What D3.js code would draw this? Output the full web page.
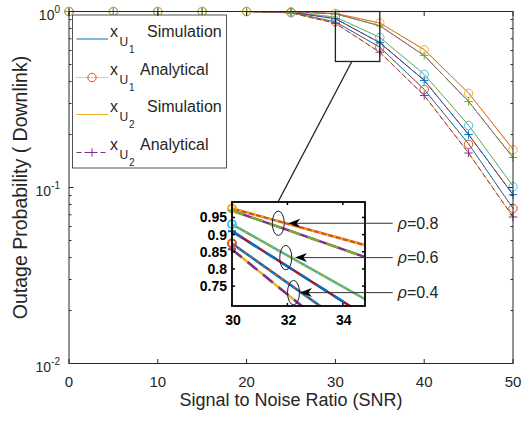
<!DOCTYPE html>
<html>
<head>
<meta charset="utf-8">
<script src="https://cdn.jsdelivr.net/npm/d3@7"></script>
<style>
  body { margin: 0; background: #fff; }
  svg { display: block; font-family: Arial, "Liberation Sans", sans-serif; }
</style>
</head>
<body>
<div id="chart"></div>
<script>
// SNR points (dB)
const snr = [0, 5, 10, 15, 20, 25, 30, 35, 40, 45, 50];

// rho = 0.4
const simU1_04 = [1, 1, 1, 1, 1, 0.985, 0.874, 0.627, 0.361, 0.177, 0.076];
const anaU1_04 = [1, 1, 1, 1, 1, 0.985, 0.874, 0.627, 0.360, 0.176, 0.076];
const simU2_04 = [1, 1, 1, 1, 1, 0.982, 0.857, 0.587, 0.334, 0.157, 0.068];
const anaU2_04 = [1, 1, 1, 1, 1, 0.982, 0.857, 0.587, 0.333, 0.157, 0.068];
// rho = 0.6
const simU1_06 = [1, 1, 1, 1, 1, 0.992, 0.930, 0.713, 0.440, 0.226, 0.102];
const anaU1_06 = [1, 1, 1, 1, 1, 0.992, 0.930, 0.712, 0.439, 0.225, 0.101];
const simU2_06 = [1, 1, 1, 1, 1, 0.990, 0.910, 0.665, 0.406, 0.200, 0.091];
const anaU2_06 = [1, 1, 1, 1, 1, 0.990, 0.910, 0.665, 0.406, 0.200, 0.091];
// rho = 0.8
const simU1_08 = [1, 1, 1, 1, 1, 0.997, 0.976, 0.860, 0.607, 0.344, 0.165];
const anaU1_08 = [1, 1, 1, 1, 1, 0.997, 0.976, 0.860, 0.606, 0.343, 0.164];
const simU2_08 = [1, 1, 1, 1, 1, 0.996, 0.970, 0.830, 0.562, 0.308, 0.148];
const anaU2_08 = [1, 1, 1, 1, 1, 0.996, 0.970, 0.830, 0.562, 0.308, 0.148];

// zoomed inset (SNR 30..35)
const zoomSnr = [30, 35];
const zoomU1_04 = [0.874, 0.588];
const zoomU2_04 = [0.857, 0.529];
const zoomU1_06 = [0.930, 0.703];
const zoomU2_06 = [0.910, 0.654];
const zoomU1_08 = [0.976, 0.865];
const zoomU2_08 = [0.970, 0.829];

const xTicks = [0, 10, 20, 30, 40, 50];
const yTicks = [0.01, 0.1, 1];
const yTickExp = ["-2", "-1", "0"];
const zoomXTicks = [30, 32, 34];
const zoomYTicks = [0.75, 0.8, 0.85, 0.9, 0.95];
const zoomYLabels = ["0.75", "0.8", "0.85", "0.9", "0.95"];
const rhoLabels = ["0.8", "0.6", "0.4"];

const colors = ["#0072BD", "#D95319", "#EDB120", "#7E2F8E", "#77AC30", "#4DBEEE", "#A2142F"];
const axisColor = "#262626";

const W = 525, H = 421;
const svg = d3.select("#chart").append("svg")
  .attr("width", W).attr("height", H);
svg.append("rect").attr("width", W).attr("height", H).attr("fill", "#fff");

const x = d3.scaleLinear().domain([0, 50]).range([69, 513]);
const y = d3.scaleLog().domain([0.01, 1]).range([363.5, 11.5]);

// build the 12 series (MATLAB colour order cycles through them)
const groups = [
  { sim1: simU1_04, ana1: anaU1_04, sim2: simU2_04, ana2: anaU2_04, z1: zoomU1_04, z2: zoomU2_04 },
  { sim1: simU1_06, ana1: anaU1_06, sim2: simU2_06, ana2: anaU2_06, z1: zoomU1_06, z2: zoomU2_06 },
  { sim1: simU1_08, ana1: anaU1_08, sim2: simU2_08, ana2: anaU2_08, z1: zoomU1_08, z2: zoomU2_08 }
];
const series = [];
groups.forEach(g => {
  series.push({ vals: g.sim1, zoom: g.z1, style: "solid", marker: null });
  series.push({ vals: g.ana1, zoom: g.z1, style: "dot", marker: "circle" });
  series.push({ vals: g.sim2, zoom: g.z2, style: "solid", marker: null });
  series.push({ vals: g.ana2, zoom: g.z2, style: "dash", marker: "plus" });
});
series.forEach((s, i) => s.color = colors[i % colors.length]);

function dashFor(style, w) {
  if (style === "dot") return `${w},${w * 2}`;
  if (style === "dash") return `${w * 5},${w * 3}`;
  return null;
}

function drawMarker(sel, kind, color, size, sw) {
  if (kind === "circle") {
    sel.append("circle").attr("r", size).attr("fill", "none")
      .attr("stroke", color).attr("stroke-width", sw);
  } else if (kind === "plus") {
    sel.append("path").attr("d", `M${-size},0H${size}M0,${-size}V${size}`)
      .attr("fill", "none").attr("stroke", color).attr("stroke-width", sw);
  }
}

// ---- main plot lines ----
const line = d3.line().x(d => x(d[0])).y(d => y(d[1]));
const plot = svg.append("g");
series.forEach(s => {
  const pts = snr.map((v, i) => [v, s.vals[i]]);
  plot.append("path").datum(pts).attr("d", line)
    .attr("fill", "none").attr("stroke", s.color).attr("stroke-width", 1)
    .attr("stroke-dasharray", dashFor(s.style, 1));
  if (s.marker) {
    pts.forEach(p => {
      const m = plot.append("g").attr("transform", `translate(${x(p[0])},${y(p[1])})`);
      drawMarker(m, s.marker, s.color, 4.2, 1);
    });
  }
});

// ---- legend ----
const legend = svg.append("g");
legend.append("rect").attr("x", 72.5).attr("y", 15).attr("width", 154).attr("height", 153)
  .attr("fill", "#fff").attr("stroke", axisColor).attr("stroke-width", 0.8);
const legendItems = [
  { s: series[0], sub: "1", word: "Simulation", wx: 147 },
  { s: series[1], sub: "1", word: "Analytical", wx: 140 },
  { s: series[2], sub: "2", word: "Simulation", wx: 147 },
  { s: series[3], sub: "2", word: "Analytical", wx: 140 }
];
const legendBase = [36.5, 75, 112, 150];
legendItems.forEach((it, i) => {
  const b = legendBase[i];
  const ly = b + 2.5;
  legend.append("line").attr("x1", 76.5).attr("x2", 108).attr("y1", ly).attr("y2", ly)
    .attr("stroke", it.s.color).attr("stroke-width", 1)
    .attr("stroke-dasharray", dashFor(it.s.style, 1));
  if (it.s.marker) {
    const m = legend.append("g").attr("transform", `translate(92,${ly})`);
    drawMarker(m, it.s.marker, it.s.color, 4.2, 1);
  }
  legend.append("text").attr("x", 110).attr("y", b).attr("font-size", 16)
    .attr("fill", axisColor).text("x");
  legend.append("text").attr("x", 119.5).attr("y", b + 9).attr("font-size", 12)
    .attr("fill", axisColor).text("U");
  legend.append("text").attr("x", 129).attr("y", b + 16).attr("font-size", 10)
    .attr("fill", axisColor).text(it.sub);
  legend.append("text").attr("x", it.wx).attr("y", b).attr("font-size", 16)
    .attr("fill", axisColor).text(it.word);
});

// ---- main axes frame & ticks ----
const ax = svg.append("g").attr("stroke", axisColor).attr("fill", "none");
const [x0, x1] = x.range();
const [yB, yT] = y.range();
ax.append("rect").attr("x", x0).attr("y", yT).attr("width", x1 - x0).attr("height", yB - yT)
  .attr("stroke-width", 1);
xTicks.forEach(t => {
  ax.append("line").attr("x1", x(t)).attr("x2", x(t)).attr("y1", yB).attr("y2", yB - 4.5);
  ax.append("line").attr("x1", x(t)).attr("x2", x(t)).attr("y1", yT).attr("y2", yT + 4.5);
});
const minor = [];
[0.01, 0.1].forEach(d => { for (let k = 2; k <= 9; k++) minor.push(d * k); });
yTicks.forEach(t => {
  ax.append("line").attr("x1", x0).attr("x2", x0 + 4.5).attr("y1", y(t)).attr("y2", y(t));
  ax.append("line").attr("x1", x1).attr("x2", x1 - 4.5).attr("y1", y(t)).attr("y2", y(t));
});
minor.forEach(t => {
  ax.append("line").attr("x1", x0).attr("x2", x0 + 2.5).attr("y1", y(t)).attr("y2", y(t));
  ax.append("line").attr("x1", x1).attr("x2", x1 - 2.5).attr("y1", y(t)).attr("y2", y(t));
});

const labels = svg.append("g").attr("fill", axisColor);
xTicks.forEach(t => {
  labels.append("text").attr("x", x(t)).attr("y", 386.5).attr("text-anchor", "middle")
    .attr("font-size", 15).text(t);
});
yTicks.forEach((t, i) => {
  const tx = labels.append("text").attr("x", 60).attr("y", y(t) + 8.5)
    .attr("text-anchor", "end").attr("font-size", 14);
  tx.append("tspan").text("10");
  tx.append("tspan").attr("font-size", 10).attr("dy", -7).text(yTickExp[i]);
});
labels.append("text").attr("x", (x0 + x1) / 2).attr("y", 406).attr("text-anchor", "middle")
  .attr("font-size", 18).text("Signal to Noise Ratio (SNR)");
labels.append("text").attr("transform", `translate(27,${(yT + yB) / 2}) rotate(-90)`)
  .attr("text-anchor", "middle").attr("font-size", 19.5).text("Outage Probability ( Downlink)");

// ---- zoom box on main plot ----
const boxLo = 0.52;
svg.append("rect").attr("x", x(30)).attr("y", y(1)).attr("width", x(35) - x(30))
  .attr("height", y(boxLo) - y(1)).attr("fill", "none").attr("stroke", "#222")
  .attr("stroke-width", 1.3);

// ---- inset ----
const ix = d3.scaleLinear().domain([30, 34.8]).range([232, 365]);
const iy = d3.scaleLinear().domain([0.692, 0.995]).range([306, 202]);
const [ix0, ix1] = ix.range();
const [iyB, iyT] = iy.range();

svg.append("line").attr("x1", x(31.85)).attr("y1", y(boxLo)).attr("x2", ix(31.66)).attr("y2", iyT)
  .attr("stroke", "#222").attr("stroke-width", 1.3);

const inset = svg.append("g");
inset.append("rect").attr("x", ix0).attr("y", iyT).attr("width", ix1 - ix0).attr("height", iyB - iyT)
  .attr("fill", "#fff");
svg.append("clipPath").attr("id", "insetClip").append("rect")
  .attr("x", ix0).attr("y", iyT).attr("width", ix1 - ix0).attr("height", iyB - iyT);
const iline = d3.line().x(d => ix(d[0])).y(d => iy(d[1]));
const ilines = inset.append("g").attr("clip-path", "url(#insetClip)");
series.forEach(s => {
  const pts = zoomSnr.map((v, i) => [v, s.zoom[i]]);
  ilines.append("path").datum(pts).attr("d", iline)
    .attr("fill", "none").attr("stroke", s.color).attr("stroke-width", 2.5)
    .attr("stroke-dasharray", dashFor(s.style, 2.5));
});
series.forEach(s => {
  if (!s.marker) return;
  const m = inset.append("g").attr("transform", `translate(${ix(zoomSnr[0])},${iy(s.zoom[0])})`);
  drawMarker(m, s.marker, s.color, 4, 2);
});

const iax = inset.append("g").attr("stroke", "#000").attr("fill", "none");
iax.append("rect").attr("x", ix0).attr("y", iyT).attr("width", ix1 - ix0).attr("height", iyB - iyT)
  .attr("stroke-width", 1.8);
zoomXTicks.forEach(t => {
  iax.append("line").attr("x1", ix(t)).attr("x2", ix(t)).attr("y1", iyB).attr("y2", iyB - 3).attr("stroke-width", 1.5);
  iax.append("line").attr("x1", ix(t)).attr("x2", ix(t)).attr("y1", iyT).attr("y2", iyT + 3).attr("stroke-width", 1.5);
  inset.append("text").attr("x", ix(t) + 1).attr("y", 325).attr("text-anchor", "middle")
    .attr("font-size", 14).attr("font-weight", "bold").attr("fill", "#000").text(t);
});
zoomYTicks.forEach((t, i) => {
  iax.append("line").attr("x1", ix0).attr("x2", ix0 + 3).attr("y1", iy(t)).attr("y2", iy(t)).attr("stroke-width", 1.5);
  iax.append("line").attr("x1", ix1).attr("x2", ix1 - 3).attr("y1", iy(t)).attr("y2", iy(t)).attr("stroke-width", 1.5);
  inset.append("text").attr("x", 227).attr("y", iy(t) + 5).attr("text-anchor", "end")
    .attr("font-size", 14).attr("font-weight", "bold").attr("fill", "#000").text(zoomYLabels[i]);
});

// ---- rho annotations (ellipses + arrows), positions in inset coordinates ----
const ellX = [31.67, 31.94, 32.22];
const ellY = [0.933, 0.833, 0.731];
const arrowTipX = [32.03, 32.27, 32.45];
const arrowTailX = 35.8;
const ann = svg.append("g");
rhoLabels.forEach((r, i) => {
  const cx = ix(ellX[i]), cy = iy(ellY[i]);
  ann.append("ellipse").attr("cx", cx).attr("cy", cy).attr("rx", 6).attr("ry", 12.2)
    .attr("fill", "none").attr("stroke", "#1c1c3a").attr("stroke-width", 1);
  const tip = ix(arrowTipX[i]), tail = ix(arrowTailX);
  ann.append("line").attr("x1", tail).attr("x2", tip + 8).attr("y1", cy).attr("y2", cy)
    .attr("stroke", "#333").attr("stroke-width", 1);
  ann.append("path")
    .attr("d", `M${tip},${cy}L${tip + 12},${cy - 4.5}L${tip + 8.5},${cy}L${tip + 12},${cy + 4.5}Z`)
    .attr("fill", "#000");
  const t = ann.append("text").attr("x", tail + 5).attr("y", cy + 5.5)
    .attr("font-size", 16).attr("fill", axisColor);
  t.append("tspan").attr("font-style", "italic").text("\u03C1");
  t.append("tspan").text("=" + r);
});
</script>
</body>
</html>
